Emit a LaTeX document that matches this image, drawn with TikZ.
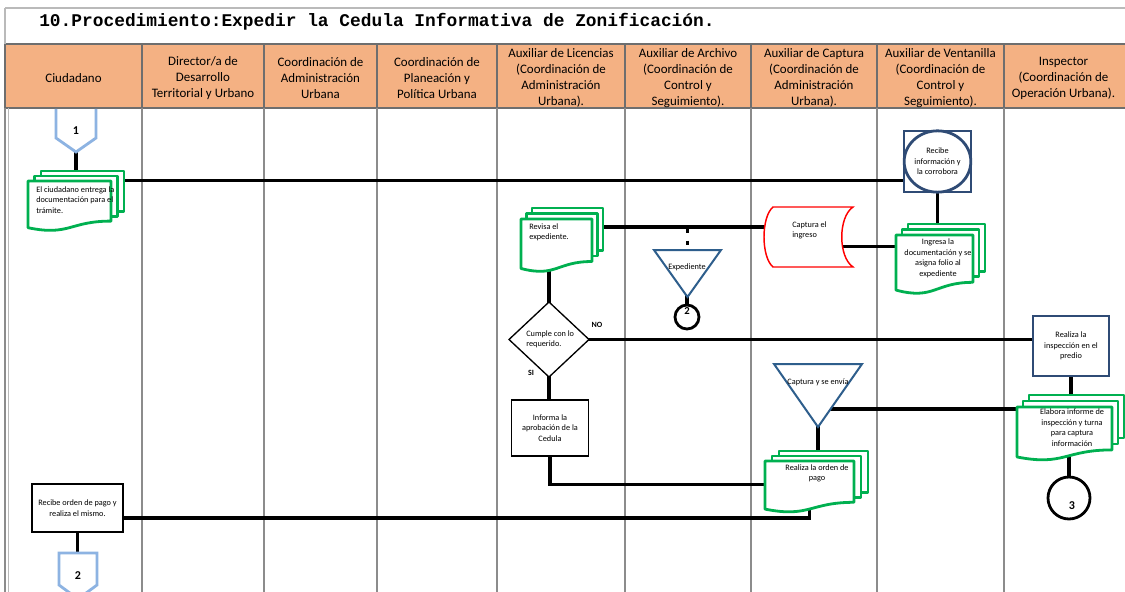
\documentclass[tikz,border=0pt]{standalone}
\usepackage{fontspec}
\setmainfont{Carlito}
\newfontfamily\titlefont{Liberation Mono}
\usetikzlibrary{calc}
\definecolor{hdr}{RGB}{244,177,131}
\definecolor{grn}{RGB}{0,176,80}
\definecolor{navy}{RGB}{47,75,117}
\definecolor{trib}{RGB}{46,94,140}
\definecolor{lblue}{RGB}{141,179,226}
\definecolor{gridc}{RGB}{140,140,140}
\definecolor{hgrid}{RGB}{110,110,110}
\pgfdeclarelayer{grid}
\pgfdeclarelayer{conn}
\pgfsetlayers{grid,conn,main}
\tikzset{
  conn/.style={line width=2.3pt, draw=black},
  dotconn/.style={line width=2.3pt, draw=black, dash pattern=on 3pt off 6pt},
  docline/.style={line width=2.1pt, draw=grn, fill=white, line join=round},
  small/.style={font=\fontsize{6.2}{7.9}\selectfont, inner sep=0pt, align=center},
  smallL/.style={small, align=left},
  hdrtxt/.style={font=\fontsize{9.7}{12}\selectfont, align=center, inner sep=0pt},
  holder/.style={draw=none, inner sep=0pt, rectangle},
  num/.style={font=\bfseries\fontsize{9}{9}\selectfont, inner sep=0pt},
  colline/.style={draw=gridc, line width=0.8pt},
  hline/.style={draw=hgrid, line width=0.9pt},
  blackbox/.style={draw=black, line width=1pt, fill=white, inner sep=0pt, align=center, font=\fontsize{6.2}{7.9}\selectfont},
  navybox/.style={draw=navy, line width=2.1pt, fill=white, inner sep=0pt, align=center, font=\fontsize{6.2}{7.9}\selectfont},
}
% name, left x, top y, width, height, dx, dy
\newcommand{\mdoc}[7]{%
  \draw[docline] ({#2+2*#6},{#3-2*#7}) rectangle ({#2+#4+2*#6},{#3+0.802*#5-2*#7});
  \draw[docline] ({#2+#6},{#3-#7}) rectangle ({#2+#4+#6},{#3+0.802*#5-#7});
  \draw[docline] (#2,#3) -- ({#2+#4},#3) -- ({#2+#4},{#3+0.802*#5})
     .. controls ({#2+0.5*#4},{#3+0.802*#5}) and ({#2+0.5*#4},{#3+1.107*#5}) .. (#2,{#3+0.934*#5}) -- cycle;
  \node[holder, minimum width={#4*0.75pt}, minimum height={0.93*#5*0.75pt}] (#1) at ({#2+0.5*#4},{#3+0.465*#5}) {};
}
\begin{document}
\begin{tikzpicture}[x=0.75pt,y=-0.75pt]
\useasboundingbox (0,0) rectangle (1125,592);

\begin{pgfonlayer}{grid}
\fill[white] (0,0) rectangle (1125,592);
\draw[draw=gridc!60, line width=0.8pt] (5,8) -- (1125,8);
\fill[hdr] (5,44) rectangle (1125,108);
\draw[hline] (5,44) -- (1125,44) (5,108) -- (1125,108);
\foreach \x in {5,142,264,377,497,625,751,877,1004} {
  \draw[hline] (\x,44) -- (\x,108);
  \draw[colline] (\x,108) -- (\x,592);
}
\draw[draw=gridc!60, line width=0.8pt] (5,8) -- (5,44);
\draw[draw=gridc!60, line width=0.6pt] (8,108) -- (8,592);
\end{pgfonlayer}

% title and header
\node[anchor=base west, inner sep=0pt, font=\titlefont\bfseries\fontsize{13.4}{16}\selectfont] (title) at (39,27) {10.Procedimiento:Expedir la Cedula Informativa de Zonificación.};
\node[hdrtxt] (h1) at (73.5,78) {Ciudadano};
\node[hdrtxt] (h2) at (203,78) {Director/a de\\Desarrollo\\Territorial y Urbano};
\node[hdrtxt] (h3) at (320.5,78) {Coordinación de\\Administración\\Urbana};
\node[hdrtxt] (h4) at (437,78) {Coordinación de\\Planeación y\\Política Urbana};
\node[hdrtxt] (h5) at (561,78) {Auxiliar de Licencias\\(Coordinación de\\Administración\\Urbana).};
\node[hdrtxt] (h6) at (688,78) {Auxiliar de Archivo\\(Coordinación de\\Control y\\Seguimiento).};
\node[hdrtxt] (h7) at (814,78) {Auxiliar de Captura\\(Coordinación de\\Administración\\Urbana).};
\node[hdrtxt] (h8) at (940.5,78) {Auxiliar de Ventanilla\\(Coordinación de\\Control y\\Seguimiento).};
\node[hdrtxt] (h9) at (1063.5,78) {Inspector\\(Coordinación de\\Operación Urbana).};

% pentagon 1
\draw[lblue, line width=2.1pt, line join=miter] (56,109) -- (56,138) -- (76,152) -- (96,138) -- (96,109);
\node[holder, num, minimum width=30pt, minimum height=31.5pt] (p1) at (76,131) {1};

% Ciudadano document
\mdoc{cdoc}{28}{181}{83}{50}{6.5}{5}
\node[smallL, anchor=west] (cdoct) at (36,200) {El ciudadano entrega la\\documentación para el\\trámite.};

% Recibe información
\node[navybox, minimum width=50.25pt, minimum height=45.75pt] (recibe) at (937.5,161.5) {Recibe\\información y\\la corrobora};
\draw[navy, line width=2.1pt] (recibe.center) ellipse [x radius=25pt, y radius=23pt];

% Ingresa document
\mdoc{idoc}{896}{235}{77}{59}{6}{5.5}
\node[small] (idoct) at (938,258.5) {Ingresa la\\documentación y se\\asigna folio al\\expediente};

% Captura el ingreso
\draw[red, line width=1.1pt, fill=white] (773,207) -- (853,207) .. controls (838,217) and (838,257) .. (853,267) -- (773,267) .. controls (761,257) and (761,217) .. (773,207) -- cycle;
\node[holder, minimum width=58.5pt, minimum height=45pt] (captura) at (803,237) {};
\node[smallL, anchor=west] (capturat) at (792,230.5) {Captura el\\ingreso};

% Revisa document
\mdoc{rdoc}{521}{219}{71}{53}{5.5}{5.5}
\node[smallL, anchor=west] (rdoct) at (529,232.5) {Revisa el\\expediente.};

% Expediente triangle
\draw[trib, line width=1.5pt, fill=white, line join=miter] (654,250) -- (721,250) -- (687.5,297) -- cycle;
\node[holder, minimum width=50.25pt, minimum height=35.25pt] (expd) at (687.5,273.5) {};
\node[small] (expdt) at (687,267) {Expediente};

% circle 2
\node[circle, draw=black, line width=2.1pt, fill=white, minimum size=18pt, inner sep=0pt] (c2) at (687,317) {};
\node[num, font=\bfseries\fontsize{8}{8}\selectfont] (c2t) at (687,311) {2};

% diamond
\draw[black, line width=1pt, fill=white] (509,339.5) -- (549,302) -- (589,339.5) -- (549,377) -- cycle;
\node[holder, minimum width=60pt, minimum height=56.25pt] (dia) at (549,339.5) {};
\node[smallL, anchor=west] (diat) at (526,339.5) {Cumple con lo\\requerido.};
\node[font=\bfseries\fontsize{6}{6}\selectfont, inner sep=0pt] (no) at (597,325) {NO};
\node[font=\bfseries\fontsize{6}{6}\selectfont, inner sep=0pt] (si) at (531,373) {SI};

% Informa box
\node[blackbox, minimum width=57.75pt, minimum height=42pt] (inf) at (550,428) {Informa la\\aprobación de la\\Cedula};

% Inspección box
\node[navybox, minimum width=57pt, minimum height=45pt] (insp) at (1071,346) {Realiza la\\inspección en el\\predio};

% Elabora document
\mdoc{edoc}{1017}{407}{95}{53.5}{6}{6}
\node[small] (edoct) at (1072,427.5) {Elabora informe de\\inspección y turna\\para captura\\información};

% Captura y se envia triangle
\draw[trib, line width=1.5pt, fill=white, line join=miter] (774,364) -- (862,364) -- (818,427) -- cycle;
\node[holder, minimum width=66pt, minimum height=47.25pt] (tri2) at (818,395.5) {};
\node[small] (tri2t) at (818,382) {Captura y se envía};

% Realiza la orden de pago document
\mdoc{odoc}{765}{461}{89}{51.5}{7}{5}
\node[small] (odoct) at (817,473.5) {Realiza la orden de\\pago};

% Recibe orden de pago box
\node[blackbox, minimum width=68.25pt, minimum height=36pt] (rop) at (77.5,508) {Recibe orden de pago y\\realiza el mismo.};

% pentagon 2
\draw[lblue, line width=2.1pt, fill=white, line join=miter] (59,553) -- (97,553) -- (97,585) -- (78,599) -- (59,585) -- cycle;
\node[holder, num, minimum width=28.5pt, minimum height=34.5pt] (p2) at (78,576) {2};

% circle 3
\node[circle, draw=black, line width=2.1pt, fill=white, minimum size=31.5pt, inner sep=0pt] (c3) at (1069,498) {};
\node[num] (c3t) at (1072,506) {3};

% connectors
\begin{pgfonlayer}{conn}
\draw[conn] (p1.south) -- (p1.south |- cdoc.center);
\draw[conn] (cdoc.north east) -- (cdoc.north east -| recibe.center);
\draw[conn] (recibe.center) -- (recibe.center |- idoc.center);
\draw[conn] ($(idoc.center)+(0,-16)$) -- ($(captura.center |- idoc.center)+(0,-16)$);
\draw[conn] ($(captura.center)+(0,-10)$) -- ($(rdoc.center |- captura.center)+(0,-10)$);
\draw[dotconn] ($(expd.north)+(0,-21)$) -- ($(expd.north)+(0,-5)$);
\draw[conn] (c2.center |- expd.center) -- (c2.center);
\draw[conn] (dia.center) -- (dia.center |- rdoc.center);
\draw[conn] (dia.center) -- (dia.center -| insp.center);
\draw[conn] (dia.center) -- (dia.center |- inf.center);
\draw[conn] (inf.center) |- (odoc.center);
\draw[conn] (odoc.center) |- ($(rop.center)+(0,10)$);
\draw[conn] (rop.center) -- (rop.center |- p2.center);
\draw[conn] (insp.center) -- (insp.center |- edoc.center);
\draw[conn] ($(tri2.center)+(0,13.5)$) -- ($(edoc.center |- tri2.center)+(0,13.5)$);
\draw[conn] (tri2.center) -- (tri2.center |- odoc.center);
\draw[conn] (c3.center) -- (c3.center |- edoc.center);
\end{pgfonlayer}
\end{tikzpicture}
\end{document}
